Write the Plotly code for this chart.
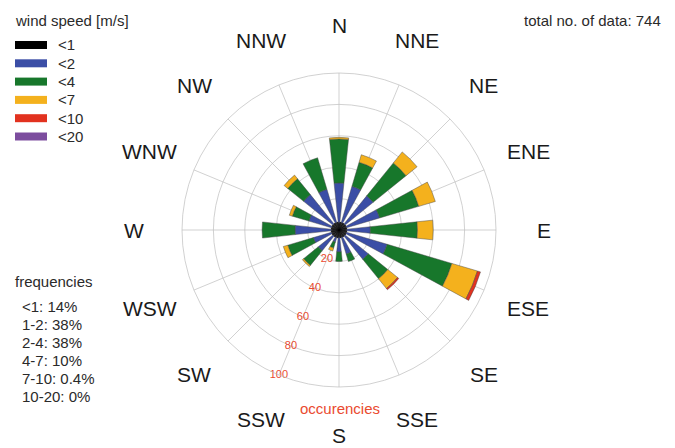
import math
import plotly.graph_objects as go

# ---------------- data ----------------
directions = ["N", "NNE", "NE", "ENE", "E", "ESE", "SE", "SSE",
              "S", "SSW", "SW", "WSW", "W", "WNW", "NW", "NNW"]
speed_classes = ["<1", "<2", "<4", "<7", "<10", "<20"]
class_colors = ["#000000", "#3b4ea6", "#17772b", "#f4b11d", "#e2321f", "#7c4d9e"]

cnt_lt1 = [5, 5, 5, 5, 5, 5, 5, 5, 5, 5, 5, 5, 5, 5, 5, 5]
cnt_lt2 = [25, 24, 23, 22, 15, 27, 19, 11, 9, 3, 12, 12, 23, 15, 24, 22]
cnt_lt4 = [28, 16, 27, 26, 30, 43, 16, 5, 6, 4, 12, 17, 21, 11, 13, 21]
cnt_lt7 = [1, 5, 9, 11, 10, 17, 8, 0, 0, 2, 1, 3, 0, 2, 3, 0]
cnt_lt10 = [0, 0, 0, 0, 0, 2, 1, 0, 0, 0, 0, 0, 0, 0, 0, 0]
cnt_lt20 = [0, 0, 0, 0, 0, 0, 0, 0, 0, 0, 0, 0, 0, 0, 0, 0]
series = [cnt_lt1, cnt_lt2, cnt_lt4, cnt_lt7, cnt_lt10, cnt_lt20]

freq_labels = ["<1", "1-2", "2-4", "4-7", "7-10", "10-20"]
freq_values = ["14%", "38%", "38%", "10%", "0.4%", "0%"]
total_data = 744

radial_ticks = [20, 40, 60, 80, 100]
radial_label_dir = "SSW"

W, H = 675, 448
OFF = 8  # page body margin
FONT = "Liberation Sans, Arial, Helvetica, sans-serif"


def px(x):
    return (x - OFF) / W


def py(y):
    return 1 - (y - OFF) / H


step = 360 / len(directions)
theta_deg = [i * step for i in range(len(directions))]

fig = go.Figure()

for i, (name, vals, col) in enumerate(zip(speed_classes, series, class_colors)):
    r = [v if v > 0 else None for v in vals]
    fig.add_trace(go.Barpolar(
        r=r, theta=theta_deg, name=name,
        width=step if i == 0 else 12,
        marker=dict(color=col if i else "#2e2e2e",
                    line=dict(color="#000000" if i == 0 else "rgba(70,70,70,0.75)",
                              width=0.6)),
        showlegend=False, hoverinfo="skip",
    ))

# radial tick labels along the SSW spoke
lab_theta = theta_deg[directions.index(radial_label_dir)]
fig.add_trace(go.Scatterpolar(
    r=radial_ticks, theta=[lab_theta] * len(radial_ticks), mode="text",
    text=[str(t) for t in radial_ticks],
    textfont=dict(family=FONT, size=11, color="#ea4a2f"),
    cliponaxis=False, showlegend=False, hoverinfo="skip",
))

grid_col = "rgba(190,190,190,0.7)"
CX, CY, RAD = 339, 230, 157
fig.update_layout(
    width=W, height=H,
    margin=dict(l=0, r=0, t=0, b=0),
    paper_bgcolor="white", plot_bgcolor="white",
    font=dict(family=FONT, color="#333333"),
    polar=dict(
        domain=dict(x=[px(CX - RAD), px(CX + RAD)], y=[py(CY + RAD), py(CY - RAD)]),
        bgcolor="white",
        barmode="stack",
        radialaxis=dict(
            range=[0, 100], tickvals=radial_ticks, showticklabels=False,
            showline=False, ticks="",
            gridcolor=grid_col, gridwidth=1, layer="above traces",
        ),
        angularaxis=dict(
            direction="clockwise", rotation=90,
            tickvals=theta_deg, showticklabels=False, ticks="",
            showline=True, linecolor=grid_col, linewidth=1,
            gridcolor=grid_col, gridwidth=1, layer="above traces",
        ),
    ),
)

ann = []
shapes = []

# compass labels outside the rose
LR = 205
for d, t in zip(directions, theta_deg):
    a = math.radians(t)
    ann.append(dict(x=px(CX + LR * math.sin(a)), y=py(CY - LR * math.cos(a)),
                    xref="paper", yref="paper", text=d, showarrow=False,
                    xanchor="center", yanchor="middle",
                    font=dict(size=21, color="#1a1a1a", family=FONT)))

TXT = "#2a2a2a"
ann.append(dict(x=px(13), y=py(21), xref="paper", yref="paper",
                text="wind speed [m/s]", showarrow=False, xanchor="left",
                yanchor="middle", font=dict(size=15, color=TXT, family=FONT)))
for i, (name, col) in enumerate(zip(speed_classes, class_colors)):
    yc = 45 + 18.3 * i
    shapes.append(dict(type="rect", xref="paper", yref="paper",
                       x0=px(15), x1=px(47), y0=py(yc - 4), y1=py(yc + 4),
                       fillcolor=col, line=dict(width=0)))
    ann.append(dict(x=px(56), y=py(yc), xref="paper", yref="paper",
                    text="&lt;" + name[1:], showarrow=False, xanchor="left",
                    yanchor="middle", font=dict(size=15, color=TXT, family=FONT)))

ann.append(dict(x=px(13), y=py(281), xref="paper", yref="paper",
                text="frequencies", showarrow=False, xanchor="left", yanchor="middle",
                font=dict(size=15, color=TXT, family=FONT)))
for i, (lab, val) in enumerate(zip(freq_labels, freq_values)):
    yc = 306.5 + 18 * i
    ann.append(dict(x=px(20), y=py(yc), xref="paper", yref="paper",
                    text=lab.replace("<", "&lt;") + ": " + val, showarrow=False,
                    xanchor="left", yanchor="middle",
                    font=dict(size=15, color=TXT, family=FONT)))

ann.append(dict(x=px(663), y=py(21), xref="paper", yref="paper",
                text="total no. of data: " + str(total_data), showarrow=False,
                xanchor="right", yanchor="middle",
                font=dict(size=15, color=TXT, family=FONT)))
ann.append(dict(x=px(340), y=py(408), xref="paper", yref="paper",
                text="occurencies", showarrow=False, xanchor="center", yanchor="middle",
                font=dict(size=15, color="#ea4a2f", family=FONT)))

fig.update_layout(annotations=ann, shapes=shapes)
fig.write_html("out.html")
